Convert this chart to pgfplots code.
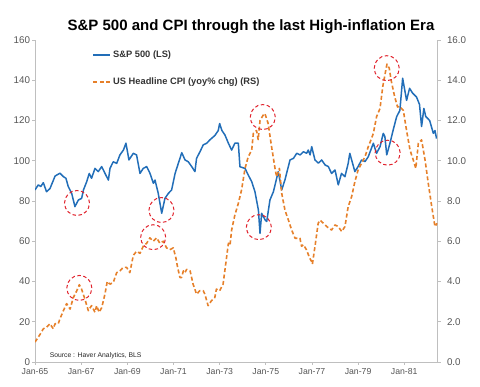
\documentclass[border=0pt]{standalone}
\usepackage{fontspec}
\setmainfont{Liberation Sans}
\usepackage{pgfplots}
\usepackage{pgfplotstable}
\pgfplotsset{compat=1.18}
\definecolor{spblue}{RGB}{34,110,184}
\definecolor{cpiorange}{RGB}{230,128,42}
\definecolor{circred}{RGB}{225,35,45}
\definecolor{axgray}{RGB}{191,191,191}
\definecolor{txtgray}{RGB}{85,85,85}

\pgfplotstableread{
t v
0 85.5
0.14 88
0.25 87.2
0.36 89.1
0.5 84.6
0.65 86.2
0.87 92.4
1.08 93.8
1.23 92.1
1.34 91.3
1.44 87.2
1.59 83.8
1.73 77.2
1.88 80.5
2.02 81.3
2.1 85.5
2.24 89.6
2.35 93.7
2.45 91.3
2.6 96.2
2.74 94.6
2.89 97.1
3.03 93.8
3.18 90.4
3.25 96.2
3.39 99.5
3.54 98.7
3.68 102.9
3.83 105.3
3.94 108.7
4.02 103.7
4.07 100.4
4.26 103.7
4.4 102.9
4.55 93.7
4.69 96.2
4.84 97.1
4.98 93.8
5.13 88.8
5.2 90.4
5.34 83.8
5.49 73.9
5.63 81.3
5.78 83.8
5.92 85.5
6.07 93.7
6.21 98.7
6.36 104
6.5 100.4
6.64 99.5
6.79 97.1
6.93 94.6
7.0 101.2
7.15 104.5
7.29 107.9
7.44 108.7
7.58 110.4
7.79 112.5
7.94 115
8.0 118.5
8.1 115
8.23 112.8
8.38 108.7
8.52 105.3
8.66 108.7
8.81 108.7
8.88 97
9.1 96.2
9.24 92.9
9.39 89.6
9.53 84.6
9.68 75.5
9.75 63.9
9.82 73.9
9.97 70.6
10.04 69.8
10.18 80.5
10.33 84.6
10.54 94.6
10.69 85.5
10.83 90.5
11.05 100.4
11.2 101.2
11.34 103.7
11.49 102.9
11.63 104.5
11.77 103.7
11.84 105.3
11.92 102.9
11.99 107
12.13 100.4
12.28 98.8
12.42 100.4
12.57 97.9
12.71 97.1
12.85 93.7
13.0 95.4
13.14 88
13.28 93.7
13.43 92.1
13.57 98.7
13.64 103.7
13.72 100.4
13.86 94.6
14.0 97.1
14.15 100.4
14.3 99.6
14.44 102
14.66 108.7
14.8 103.7
14.95 107
15.09 113.6
15.16 112
15.24 102.9
15.38 108.7
15.52 115.3
15.67 121.9
15.81 125
15.93 141
16.1 130
16.23 136
16.36 133.6
16.53 131.7
16.66 128
16.75 117
16.85 126
16.93 122
17.1 120
17.26 113.6
17.33 115
17.4 111
}\spdata

\pgfplotstableread{
t v
0 0.99
0.22 1.37
0.36 1.65
0.5 1.73
0.65 1.9
0.79 1.65
0.87 1.9
1.01 1.9
1.08 2.14
1.23 2.55
1.37 2.9
1.52 2.63
1.66 3.2
1.81 3.54
1.92 3.84
2.02 3.62
2.16 3.13
2.31 2.55
2.45 2.8
2.6 2.47
2.67 2.8
2.78 2.47
2.89 2.7
3.03 3.37
3.13 4.0
3.25 3.87
3.39 3.95
3.54 4.44
3.68 4.53
3.82 4.7
3.97 4.7
4.11 4.44
4.26 5.3
4.4 5.5
4.55 5.4
4.69 5.75
4.84 5.9
4.98 6.17
5.12 6.0
5.27 6.17
5.41 5.9
5.56 6.0
5.7 5.67
5.84 5.58
5.99 5.67
6.1 5.2
6.18 4.7
6.28 4.2
6.35 4.2
6.43 4.53
6.5 4.44
6.57 4.6
6.72 4.53
6.85 3.87
7.0 3.37
7.14 3.54
7.29 3.54
7.36 3.37
7.5 2.8
7.65 3.05
7.79 3.2
7.86 3.62
8.0 3.54
8.15 3.87
8.3 5.19
8.38 5.9
8.45 5.8
8.52 6.56
8.66 7.3
8.81 7.88
8.95 8.55
9.1 9.62
9.24 10.2
9.39 10.53
9.46 11.36
9.6 11.5
9.67 11.05
9.75 12.0
9.89 12.27
9.96 12.35
10.1 11.86
10.25 10.7
10.4 9.62
10.47 9.2
10.59 9.62
10.69 8.38
10.83 7.55
10.98 7.05
11.12 6.56
11.27 6.15
11.48 6.15
11.55 5.75
11.63 5.83
11.76 5.58
11.9 5.17
11.98 5.0
12.02 4.86
12.1 5.5
12.13 5.73
12.27 6.89
12.35 7.05
12.5 6.89
12.64 6.73
12.85 6.56
13.0 6.81
13.14 6.73
13.29 6.48
13.43 6.73
13.57 7.72
13.72 8.22
13.86 8.96
14.0 9.54
14.15 9.87
14.3 10.2
14.44 10.7
14.58 11.1
14.66 11.36
14.8 12.19
14.95 12.6
15.07 13.7
15.2 14.5
15.25 14.8
15.35 14.6
15.43 14.0
15.58 13.2
15.71 12.67
15.8 12.7
15.96 12.5
16.1 11.5
16.25 10.53
16.39 10.04
16.5 9.62
16.61 10.87
16.75 11.04
16.9 10.04
17.04 8.88
17.19 7.72
17.33 6.73
17.42 6.89
}\cpidata

\begin{document}
\begin{tikzpicture}
\useasboundingbox (0pt,0pt) rectangle (480pt,387pt);
\pgfplotsset{
  common/.style={
    scale only axis, width=402.5pt, height=322pt,
    at={(35pt,25pt)}, anchor=south west,
    xmin=0, xmax=17.44,
    tick align=outside, major tick length=3pt,
    axis line style={draw=axgray, line width=0.9pt},
    every tick/.style={draw=axgray, line width=0.9pt},
    tick label style={text=txtgray},
    /pgf/number format/assume math mode=true,
  }
}
\begin{axis}[common, axis x line*=bottom, axis y line*=left,
  ymin=0, ymax=160, ytick={0,20,...,160},
  xtick={0,2,...,16},
  x tick label style={font=\fontsize{8.7}{10}\selectfont},
  y tick label style={font=\fontsize{9.8}{10}\selectfont, xshift=1.5pt},
  xticklabels={Jan-65,Jan-67,Jan-69,Jan-71,Jan-73,Jan-75,Jan-77,Jan-79,Jan-81}]
\addplot[spblue, line width=1.5pt, line join=round] table[x=t,y=v] {\spdata};
\end{axis}
\begin{axis}[common, axis x line=none, axis y line*=right,
  ymin=0, ymax=16, ytick={0,2,...,16},
  y tick label style={font=\fontsize{9.8}{10}\selectfont, xshift=3pt},
  yticklabel style={/pgf/number format/.cd, fixed, fixed zerofill, precision=1},
  legend style={draw=none, fill=none, at={(0.135,0.98)}, anchor=north west,
    font=\bfseries\fontsize{9.3}{10}\selectfont, text=black!80, row sep=15pt},
  legend cell align=left]
\addlegendimage{spblue, line width=1.5pt}
\addlegendentry{S\&P 500 (LS)}
\addplot[cpiorange, line width=1.6pt, dash pattern=on 4pt off 2.5pt, line join=round] table[x=t,y=v] {\cpidata};
\addlegendentry{US Headline CPI (yoy\% chg) (RS)}
\addplot[forget plot, only marks, mark=o, mark size=12.5pt,
  mark options={draw=circred, line width=1pt, dash pattern=on 3.5pt off 2.5pt}]
  coordinates {(1.92,3.68) (1.82,7.9) (5.48,7.55) (5.12,6.2) (9.87,12.17) (9.7,6.7) (15.28,10.4) (15.24,14.6)};
\node[font=\fontsize{6.8}{7}\selectfont, text=black!85, anchor=south west] at (rel axis cs:0.028,0.0) {Source : Haver Analytics, BLS};
\end{axis}
\node[font=\bfseries\fontsize{15}{16}\selectfont] at (251pt,360pt) {S\&P 500 and CPI through the last High-inflation Era};
\end{tikzpicture}
\end{document}
